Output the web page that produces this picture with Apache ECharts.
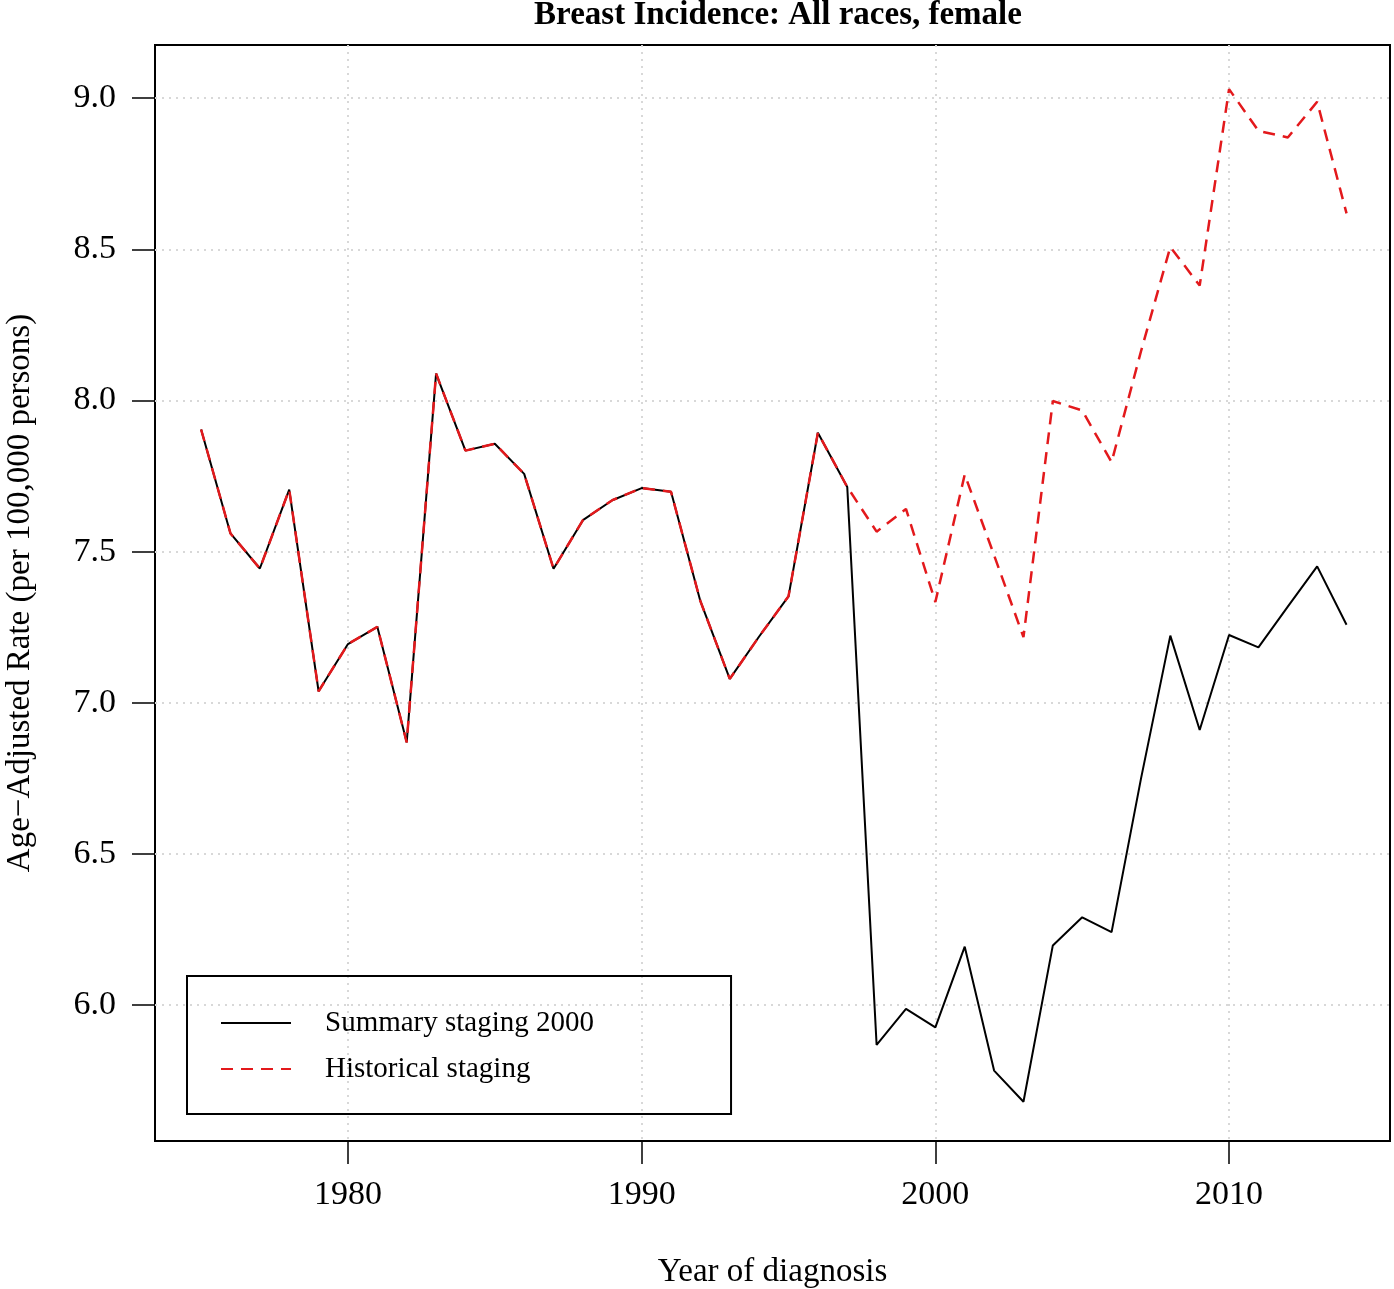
<!DOCTYPE html>
<html>
<head>
<meta charset="utf-8">
<script src="https://cdn.jsdelivr.net/npm/echarts@6/dist/echarts.min.js"></script>
<style>
html,body{margin:0;padding:0;background:#fff;}
#chart{width:1394px;height:1289px;}
</style>
</head>
<body>
<div id="chart"></div>
<script>
const years = [1975,1976,1977,1978,1979,1980,1981,1982,1983,1984,1985,1986,1987,1988,1989,1990,1991,1992,1993,1994,1995,1996,1997,1998,1999,2000,2001,2002,2003,2004,2005,2006,2007,2008,2009,2010,2011,2012,2013,2014];
const summaryStaging2000 = [7.904,7.560,7.444,7.705,7.038,7.194,7.251,6.869,8.089,7.834,7.857,7.757,7.443,7.604,7.670,7.710,7.698,7.336,7.079,7.219,7.352,7.893,7.714,5.868,5.987,5.926,6.193,5.783,5.680,6.197,6.290,6.241,6.748,7.222,6.910,7.224,7.183,7.318,7.451,7.258];
const historicalStaging = [7.904,7.560,7.444,7.705,7.038,7.194,7.251,6.869,8.089,7.834,7.857,7.757,7.443,7.604,7.670,7.710,7.698,7.336,7.079,7.219,7.352,7.893,7.714,7.566,7.641,7.333,7.755,7.488,7.217,7.998,7.967,7.796,8.162,8.508,8.380,9.030,8.892,8.870,8.988,8.619];
const xTicks = [1980,1990,2000,2010];
const yTicks = [6.0,6.5,7.0,7.5,8.0,8.5,9.0];
const seriesNames = ['Summary staging 2000','Historical staging'];
const titleText = 'Breast Incidence: All races, female';
const xTitle = 'Year of diagnosis';
const yTitle = 'Age\u2212Adjusted Rate (per 100,000 persons)';

const FONT = "'Liberation Serif','Times New Roman',serif";
const chart = echarts.init(document.getElementById('chart'), null, {renderer:'canvas'});
const gridStyle = {show:true, lineStyle:{color:'#d8d8d8', width:2, type:[2,5]}};
chart.setOption({
  animation:false,
  backgroundColor:'#fff',
  title:{text:titleText, left:773, top:-6, textAlign:'center',
    textStyle:{fontFamily:FONT, fontSize:33, fontWeight:'bold', color:'#000'}},
  grid:{left:155, top:45, right:4, bottom:148, outerBoundsMode:'none', containLabel:false,
    show:true, borderColor:'#000', borderWidth:2, backgroundColor:'transparent'},
  legend:{orient:'vertical', left:187, top:976, padding:[32,137,30,33], itemGap:16,
    itemWidth:70, itemHeight:30, borderColor:'#000', borderWidth:2,
    itemStyle:{opacity:0},
    data:seriesNames,
    textStyle:{fontFamily:FONT, fontSize:29, color:'#000', lineHeight:30, padding:[0,0,0,29]}},
  xAxis:{type:'value', min:1973.43, max:2015.48,
    name:xTitle, nameLocation:'middle', nameGap:115,
    nameTextStyle:{fontFamily:FONT, fontSize:33, color:'#000'},
    axisLine:{show:false},
    axisTick:{show:true, length:23, lineStyle:{color:'#000', width:1.5}, customValues:xTicks},
    axisLabel:{customValues:xTicks, margin:37, fontFamily:FONT, fontSize:34, color:'#000',
      formatter:v=>String(v)},
    splitLine:gridStyle},
  yAxis:{type:'value', min:5.55, max:9.176,
    name:yTitle, nameLocation:'middle', nameGap:118,
    nameTextStyle:{fontFamily:FONT, fontSize:33, color:'#000'},
    axisLine:{show:false},
    axisTick:{show:true, length:23, lineStyle:{color:'#000', width:1.5}, customValues:yTicks},
    axisLabel:{customValues:yTicks, margin:39, fontFamily:FONT, fontSize:34, color:'#000',
      formatter:v=>Number(v).toFixed(1)},
    splitLine:gridStyle},
  series:[
    {name:seriesNames[0], type:'line', symbol:'none', z:2,
      lineStyle:{color:'#000', width:2}, itemStyle:{color:'#000'},
      data:years.map((y,i)=>[y, summaryStaging2000[i]])},
    {name:seriesNames[1], type:'line', symbol:'none', z:3,
      lineStyle:{color:'#e3191c', width:2.5, type:[12,8]}, itemStyle:{color:'#e3191c'},
      data:years.map((y,i)=>[y, historicalStaging[i]])}
  ]
});
</script>
</body>
</html>
